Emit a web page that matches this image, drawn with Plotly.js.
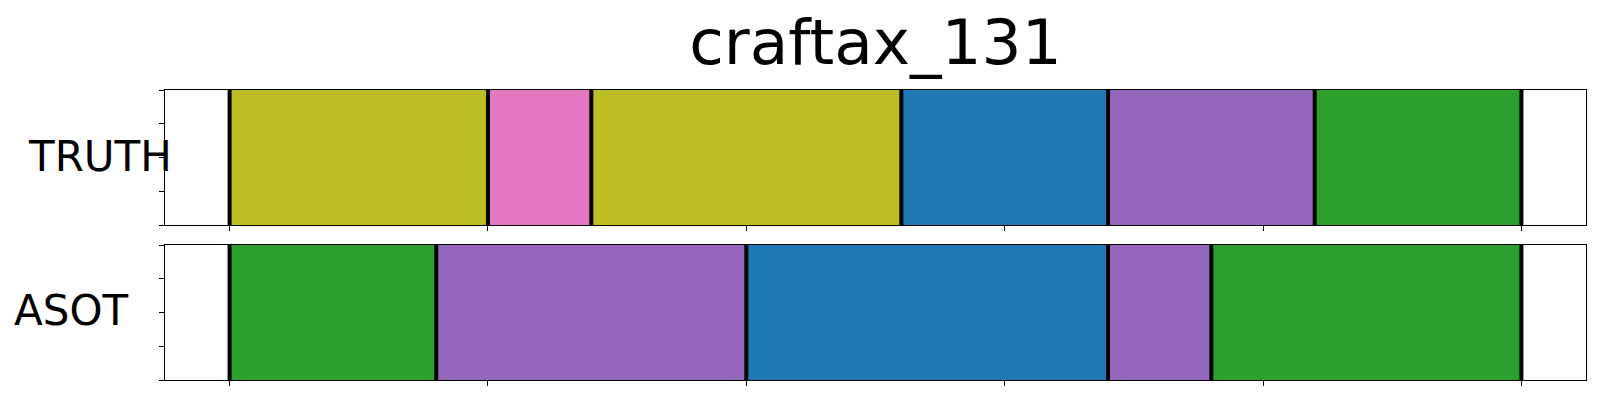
<!DOCTYPE html>
<html>
<head>
<meta charset="utf-8">
<script src="https://cdn.plot.ly/plotly-3.0.1.min.js"></script>
<style>html,body{margin:0;padding:0;background:#fff;}#chart{width:1600px;height:400px;}</style>
</head>
<body>
<div id="chart"></div>
<script>
// Segment boundaries (frame units) and segment classes
const truthBounds = [0, 20, 28, 52, 68, 84, 100];
const truthClasses = [8, 6, 8, 0, 4, 2];
const asotBounds = [0, 16, 40, 68, 76, 100];
const asotClasses = [2, 4, 0, 4, 2];
const rowLabels = ['TRUTH', 'ASOT'];
const titleText = 'craftax_131';
const xTicks = [0, 20, 40, 60, 80, 100];
const yTicks = [0, 0.25, 0.5, 0.75, 1];

const tab10 = ['#1f77b4','#ff7f0e','#2ca02c','#d62728','#9467bd','#8c564b','#e377c2','#7f7f7f','#bcbd22','#17becf'];

function rowTraces(bounds, classes, xa, ya) {
  const traces = [];
  for (let i = 0; i < classes.length; i++) {
    traces.push({
      type: 'bar', orientation: 'h',
      y: [0.5], x: [bounds[i+1] - bounds[i]], base: [bounds[i]],
      width: 1,
      marker: {color: tab10[classes[i]], line: {width: 0}},
      xaxis: xa, yaxis: ya, hoverinfo: 'skip', showlegend: false
    });
  }
  bounds.forEach(b => {
    traces.push({
      type: 'scatter', mode: 'lines',
      x: [b, b], y: [0, 1],
      line: {color: '#000', width: 4},
      xaxis: xa, yaxis: ya, hoverinfo: 'skip', showlegend: false, cliponaxis: true
    });
  });
  return traces;
}

const data = [].concat(
  rowTraces(truthBounds, truthClasses, 'x', 'y'),
  rowTraces(asotBounds, asotClasses, 'x2', 'y2')
);

const xa = {
  range: [-5, 105], tickvals: xTicks, showticklabels: false,
  ticks: 'outside', ticklen: 5, tickwidth: 1, tickcolor: '#000',
  showline: true, linecolor: '#000', linewidth: 1, mirror: true,
  showgrid: false, zeroline: false, fixedrange: true
};
const ya = {
  range: [0, 1], tickvals: yTicks, showticklabels: false,
  ticks: 'outside', ticklen: 5, tickwidth: 1, tickcolor: '#000',
  showline: true, linecolor: '#000', linewidth: 1, mirror: true,
  showgrid: false, zeroline: false, fixedrange: true
};

const layout = {
  width: 1600, height: 400,
  margin: {l: 165, r: 14, t: 90, b: 20},
  paper_bgcolor: '#fff', plot_bgcolor: '#fff',
  barmode: 'overlay', bargap: 0,
  font: {family: 'DejaVu Sans', color: '#000'},
  title: {text: titleText, font: {family: 'DejaVu Sans', size: 63, color: '#000'},
          x: 0.5, xref: 'paper', y: 0.894, yref: 'container', yanchor: 'middle', xanchor: 'center'},
  xaxis: Object.assign({}, xa, {anchor: 'y'}),
  yaxis: Object.assign({}, ya, {domain: [0.5345, 1], anchor: 'x'}),
  xaxis2: Object.assign({}, xa, {anchor: 'y2'}),
  yaxis2: Object.assign({}, ya, {domain: [0, 0.4655], anchor: 'x2'}),
  annotations: [
    {text: rowLabels[0], xref: 'paper', yref: 'paper', x: -0.0975, y: 0.772, xanchor: 'left', yanchor: 'middle',
     showarrow: false, font: {family: 'DejaVu Sans', size: 42, color: '#000'}},
    {text: rowLabels[1], xref: 'paper', yref: 'paper', x: -0.108, y: 0.241, xanchor: 'left', yanchor: 'middle',
     showarrow: false, font: {family: 'DejaVu Sans', size: 42, color: '#000'}}
  ]
};

Plotly.newPlot('chart', data, layout, {displayModeBar: false, staticPlot: true});
</script>
</body>
</html>
